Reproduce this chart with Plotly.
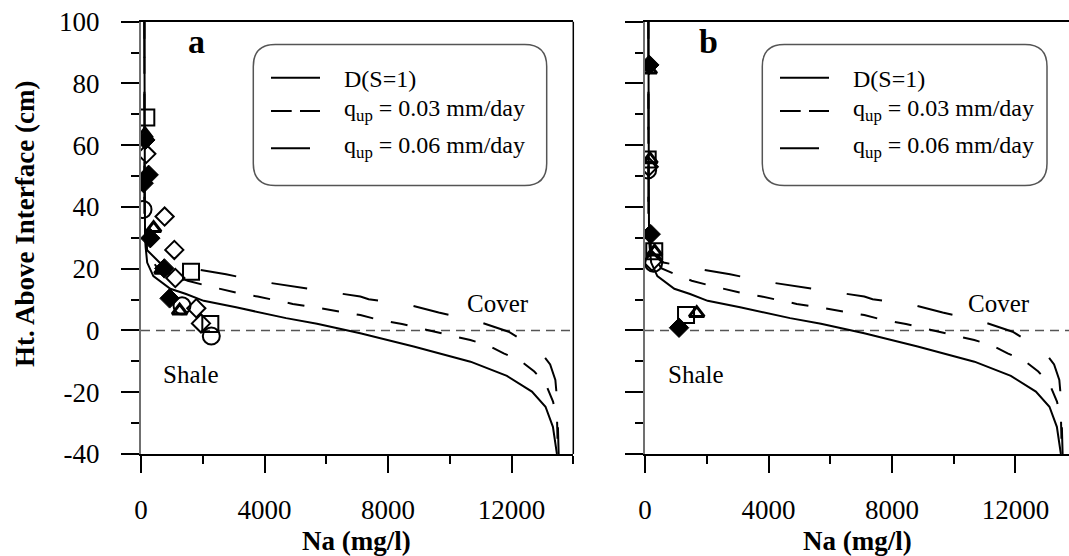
import plotly.graph_objects as go

# ---------------- data ----------------
# Model curves (Na mg/l vs height above interface, cm) - same in both panels
solid_x = [110, 110, 130, 150, 200, 400, 650, 950, 1460, 2030, 3080, 4200, 4700, 5700, 6640, 7100, 8830, 10670, 11850, 12660, 13100, 13340, 13470]
solid_y = [100, 40, 30, 27, 22, 17.6, 15.6, 13.5, 11.8, 9.6, 7.5, 5.0, 4.0, 2.2, 0.2, -0.9, -5.2, -10.1, -14.7, -19.8, -24.7, -31.2, -40]

q03_x = [110, 110, 200, 540, 918, 1513, 2052, 2646, 3184, 3780, 4320, 4916, 5508, 6100, 6640, 7103, 7644, 8453, 8939, 9532, 10018, 10666, 11206, 11745, 12263, 12738, 13095, 13344, 13474, 13500]
q03_y = [100, 35, 25, 20.1, 18.5, 16.1, 14.7, 13.4, 12.0, 11.0, 9.9, 8.6, 7.7, 6.6, 5.8, 5.0, 3.6, 2.1, 1.0, -0.4, -1.5, -3.1, -4.7, -7.4, -9.6, -13.3, -17.1, -23, -29, -40]

q06_x = [110, 110, 200, 600, 1620, 2754, 3921, 5077, 6212, 6643, 7103, 7372, 8560, 9640, 10828, 11906, 12910, 13250, 13419, 13480, 13526]
q06_y = [100, 35, 26, 22, 20.1, 18.2, 15.8, 14.0, 12.4, 11.5, 11.0, 10.1, 8.6, 5.8, 3.2, -0.4, -6.5, -11, -16, -23, -40]

interface_level = 0

# Panel a observations
a_square_x = [172, 1620, 2245]
a_square_y = [69.0, 19.0, 2.1]
a_circle_x = [65, 1328, 2277]
a_circle_y = [39.2, 8.0, -1.8]
a_odiam_x = [172, 765, 1079, 1111, 1791, 1943]
a_odiam_y = [57.2, 36.9, 26.1, 17.0, 7.2, 2.3]
a_fdiam_x = [140, 247, 85, 301, 755, 927]
a_fdiam_y = [61.7, 50.4, 47.7, 29.9, 20.1, 10.4]
a_tri_x = [130, 408, 680, 1251]
a_tri_y = [63.5, 33.1, 19.6, 6.4]

# Panel b observations
b_square_x = [87, 300, 1329]
b_square_y = [55.4, 25.7, 5.0]
b_circle_x = [87, 280]
b_circle_y = [52.0, 21.8]
b_odiam_x = [120, 230]
b_odiam_y = [53.0, 22.3]
b_fdiam_x = [139, 184, 1102]
b_fdiam_y = [86.0, 31.2, 0.9]
b_tri_x = [139, 160, 310, 1675]
b_tri_y = [84.4, 55.4, 25.5, 5.6]

x_tickvals = [0, 4000, 8000, 12000]
x_ticktext = ["0", "4000", "8000", "12000"]
x_minor = [2000, 6000, 10000, 14000]
y_tickvals = [-40, -20, 0, 20, 40, 60, 80, 100]
y_ticktext = ["-40", "-20", "0", "20", "40", "60", "80", "100"]
y_minor = [-30, -10, 10, 30, 50, 70, 90]

legend_labels = ["D(S=1)", "q<sub>up</sub> = 0.03 mm/day", "q<sub>up</sub> = 0.06 mm/day"]

# ---------------- layout helpers ----------------
W, H = 1069, 556
FONT = "Liberation Serif, Times New Roman, serif"


def px(x):
    return x / W


def py(y):
    return 1 - y / H


fig = go.Figure()

panels = [
    dict(xa="x", ya="y", xmax=14000,
         sq=(a_square_x, a_square_y), ci=(a_circle_x, a_circle_y),
         od=(a_odiam_x, a_odiam_y), fd=(a_fdiam_x, a_fdiam_y), tr=(a_tri_x, a_tri_y)),
    dict(xa="x2", ya="y2", xmax=13733,
         sq=(b_square_x, b_square_y), ci=(b_circle_x, b_circle_y),
         od=(b_odiam_x, b_odiam_y), fd=(b_fdiam_x, b_fdiam_y), tr=(b_tri_x, b_tri_y)),
]

for p in panels:
    xa, ya = p["xa"], p["ya"]
    fig.add_trace(go.Scatter(x=[0, p["xmax"]], y=[interface_level, interface_level], mode="lines",
                             line=dict(color="#555555", width=1.5, dash="9px,6px"),
                             xaxis=xa, yaxis=ya, showlegend=False, hoverinfo="skip"))
    fig.add_trace(go.Scatter(x=solid_x, y=solid_y, mode="lines",
                             line=dict(color="black", width=2),
                             xaxis=xa, yaxis=ya, showlegend=False))
    fig.add_trace(go.Scatter(x=q03_x, y=q03_y, mode="lines",
                             line=dict(color="black", width=2, dash="17px,18px"),
                             xaxis=xa, yaxis=ya, showlegend=False))
    fig.add_trace(go.Scatter(x=q06_x, y=q06_y, mode="lines",
                             line=dict(color="black", width=2, dash="36px,36px"),
                             xaxis=xa, yaxis=ya, showlegend=False))
    mk = [
        ("sq", "square-open", 16, 2),
        ("ci", "circle-open", 17, 2),
        ("od", "diamond-open", 14, 2),
        ("tr", "triangle-up-open", 13, 3),
        ("fd", "diamond", 15, 1),
    ]
    for key, sym, size, lw in mk:
        xs, ys = p[key]
        fig.add_trace(go.Scatter(x=xs, y=ys, mode="markers",
                                 marker=dict(symbol=sym, size=size, color="black",
                                             line=dict(color="black", width=lw)),
                                 xaxis=xa, yaxis=ya, showlegend=False))

ydom = [1 - 454 / H, 1 - 21.7 / H]

xcommon = dict(showline=True, linecolor="black", linewidth=1.5, ticks="outside",
               ticklen=17, tickwidth=1.5, tickcolor="black", tickvals=x_tickvals, ticktext=x_ticktext,
               minor=dict(tickvals=x_minor, ticklen=8, tickwidth=1.5, tickcolor="black", ticks="outside"),
               showgrid=False, zeroline=False, ticklabelstandoff=14, automargin=False,
               tickfont=dict(family=FONT, size=27, color="black"))
ycommon = dict(range=[-40, 100], showline=True, linecolor="#707070", linewidth=2, ticks="outside",
               ticklen=18, tickwidth=1.5, tickcolor="black", tickvals=y_tickvals, ticktext=y_ticktext,
               minor=dict(tickvals=y_minor, ticklen=8, tickwidth=1.5, tickcolor="black", ticks="outside"),
               showgrid=False, zeroline=False, ticklabelstandoff=16, automargin=False,
               tickfont=dict(family=FONT, size=27, color="black"), domain=ydom)

xa1 = dict(xcommon); xa1.update(range=[0, 14000], domain=[px(141), px(573.3)], mirror=True, anchor="y")
xa2 = dict(xcommon); xa2.update(range=[0, 13733], domain=[px(645), 1.0], mirror=True, anchor="y2")
ya1 = dict(ycommon); ya1.update(anchor="x", mirror=False)
ya2 = dict(ycommon); ya2.update(anchor="x2", mirror=False, showticklabels=False)

shapes = []
# right border of panel a
shapes.append(dict(type="line", xref="x domain", yref="y domain", x0=1, x1=1, y0=0, y1=1,
                   line=dict(color="black", width=1.5)))


def rounded_box(x0, y0, x1, y1, r):
    def P(x, y):
        return f"{px(x):.5f},{py(y):.5f}"
    path = (f"M {P(x0 + r, y0)} L {P(x1 - r, y0)} Q {P(x1, y0)} {P(x1, y0 + r)} "
            f"L {P(x1, y1 - r)} Q {P(x1, y1)} {P(x1 - r, y1)} "
            f"L {P(x0 + r, y1)} Q {P(x0, y1)} {P(x0, y1 - r)} "
            f"L {P(x0, y0 + r)} Q {P(x0, y0)} {P(x0 + r, y0)} Z")
    return dict(type="path", xref="paper", yref="paper", path=path,
                line=dict(color="#555555", width=1.5), fillcolor="rgba(0,0,0,0)")


annotations = []
for shift, box_right in ((0, 546.7), (509, 1047)):
    shapes.append(rounded_box(253.3 + shift, 44.5, box_right, 185.5, 22))
    shapes.append(dict(type="line", xref="paper", yref="paper", x0=px(271 + shift), x1=px(320 + shift),
                       y0=py(77.7), y1=py(77.7), line=dict(color="black", width=2)))
    shapes.append(dict(type="line", xref="paper", yref="paper", x0=px(271 + shift), x1=px(291.7 + shift),
                       y0=py(111), y1=py(111), line=dict(color="black", width=2)))
    shapes.append(dict(type="line", xref="paper", yref="paper", x0=px(300 + shift), x1=px(320 + shift),
                       y0=py(111), y1=py(111), line=dict(color="black", width=2)))
    shapes.append(dict(type="line", xref="paper", yref="paper", x0=px(271 + shift), x1=px(310 + shift),
                       y0=py(148.3), y1=py(148.3), line=dict(color="black", width=2)))
    for lab, yy in zip(legend_labels, (79, 110, 147)):
        annotations.append(dict(text=lab, xref="paper", yref="paper", x=px(341.7 + shift), y=py(yy),
                                xanchor="left", yanchor="middle", showarrow=False,
                                font=dict(family=FONT, size=24, color="black")))

for txt, x, y, size, bold in [("a", 196.7, 42, 34, True), ("b", 708.3, 42, 34, True),
                              ("Cover", 497.5, 303, 25, False), ("Cover", 998.8, 303, 25, False),
                              ("Shale", 191, 374, 25, False), ("Shale", 695.5, 374, 25, False)]:
    annotations.append(dict(text=f"<b>{txt}</b>" if bold else txt, xref="paper", yref="paper",
                            x=px(x), y=py(y), xanchor="center", yanchor="middle", showarrow=False,
                            font=dict(family=FONT, size=size, color="black")))

for x in (357, 857):
    annotations.append(dict(text="<b>Na (mg/l)</b>", xref="paper", yref="paper", x=px(x), y=py(541),
                            xanchor="center", yanchor="middle", showarrow=False,
                            font=dict(family=FONT, size=27, color="black")))
annotations.append(dict(text="<b>Ht. Above Interface (cm)</b>", xref="paper", yref="paper",
                        x=px(25.5), y=py(224.4), xanchor="center", yanchor="middle", textangle=-90,
                        showarrow=False, font=dict(family=FONT, size=27, color="black")))

fig.update_layout(width=W, height=H, margin=dict(l=0, r=0, t=0, b=0, pad=0, autoexpand=False),
                  paper_bgcolor="white", plot_bgcolor="white",
                  xaxis=xa1, xaxis2=xa2, yaxis=ya1, yaxis2=ya2,
                  shapes=shapes, annotations=annotations, showlegend=False,
                  font=dict(family=FONT, color="black"))

fig.write_html("out.html")
